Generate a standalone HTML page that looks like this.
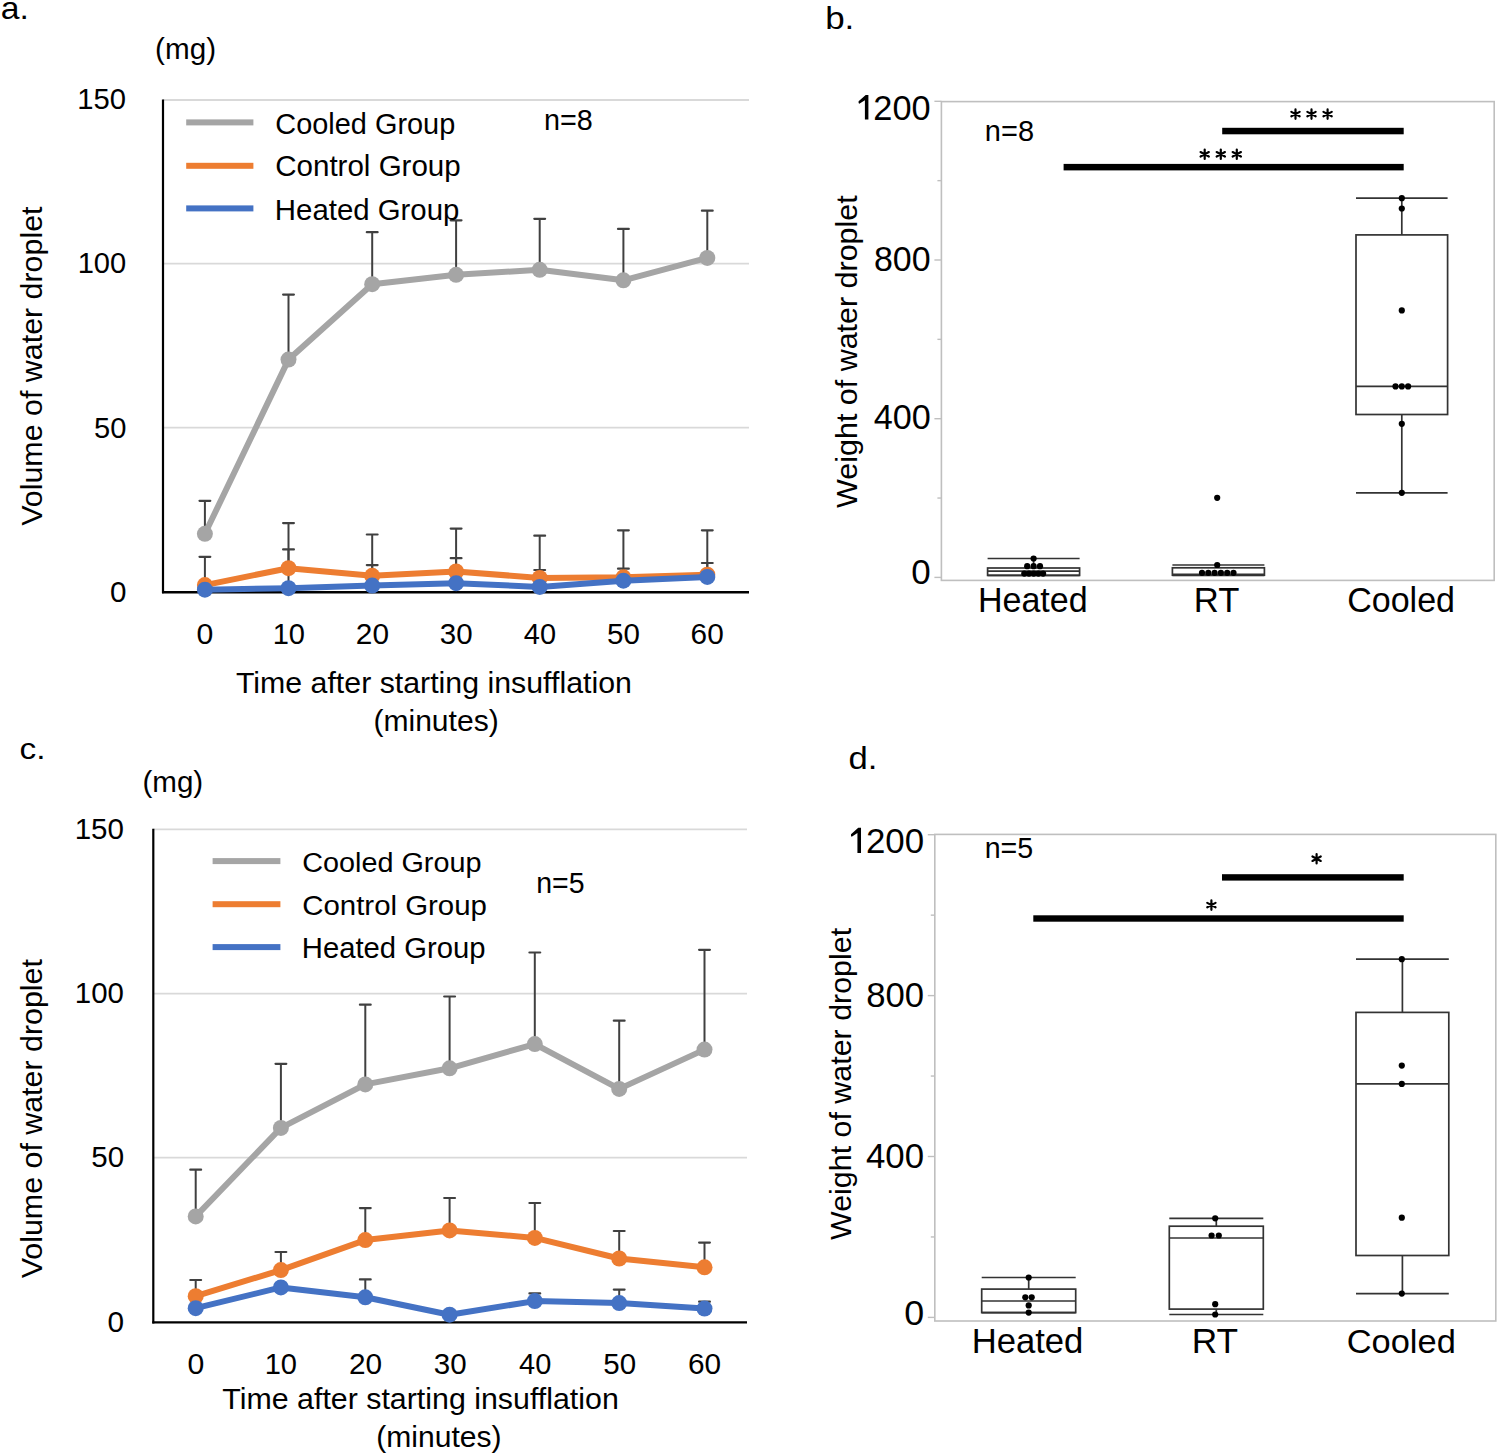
<!DOCTYPE html>
<html><head><meta charset="utf-8"><title>Figure</title>
<style>html,body{margin:0;padding:0;background:#fff;}svg{display:block;}text{font-family:"Liberation Sans",sans-serif;}</style></head>
<body><svg width="1499" height="1455" viewBox="0 0 1499 1455" font-family="Liberation Sans, sans-serif">
<rect width="1499" height="1455" fill="#fff"/>
<line x1="163" y1="100" x2="749" y2="100" stroke="#D9D9D9" stroke-width="1.8" />
<line x1="163" y1="263.6" x2="749" y2="263.6" stroke="#D9D9D9" stroke-width="1.8" />
<line x1="163" y1="427.7" x2="749" y2="427.7" stroke="#D9D9D9" stroke-width="1.8" />
<line x1="204.9" y1="533.8" x2="204.9" y2="500.8" stroke="#404040" stroke-width="2" />
<line x1="199.5" y1="500.8" x2="210.3" y2="500.8" stroke="#404040" stroke-width="2.2" stroke-linecap="round"/>
<line x1="288.5" y1="359.6" x2="288.5" y2="294.6" stroke="#404040" stroke-width="2" />
<line x1="283.1" y1="294.6" x2="293.9" y2="294.6" stroke="#404040" stroke-width="2.2" stroke-linecap="round"/>
<line x1="372.2" y1="284.2" x2="372.2" y2="232.2" stroke="#404040" stroke-width="2" />
<line x1="366.8" y1="232.2" x2="377.59999999999997" y2="232.2" stroke="#404040" stroke-width="2.2" stroke-linecap="round"/>
<line x1="456.1" y1="274.8" x2="456.1" y2="220.3" stroke="#404040" stroke-width="2" />
<line x1="450.70000000000005" y1="220.3" x2="461.5" y2="220.3" stroke="#404040" stroke-width="2.2" stroke-linecap="round"/>
<line x1="539.7" y1="269.8" x2="539.7" y2="218.8" stroke="#404040" stroke-width="2" />
<line x1="534.3000000000001" y1="218.8" x2="545.1" y2="218.8" stroke="#404040" stroke-width="2.2" stroke-linecap="round"/>
<line x1="623.4" y1="280.3" x2="623.4" y2="228.9" stroke="#404040" stroke-width="2" />
<line x1="618.0" y1="228.9" x2="628.8" y2="228.9" stroke="#404040" stroke-width="2.2" stroke-linecap="round"/>
<line x1="707.3" y1="257.9" x2="707.3" y2="210.7" stroke="#404040" stroke-width="2" />
<line x1="701.9" y1="210.7" x2="712.6999999999999" y2="210.7" stroke="#404040" stroke-width="2.2" stroke-linecap="round"/>
<line x1="204.9" y1="585.1" x2="204.9" y2="556.8" stroke="#404040" stroke-width="2" />
<line x1="199.5" y1="556.8" x2="210.3" y2="556.8" stroke="#404040" stroke-width="2.2" stroke-linecap="round"/>
<line x1="288.5" y1="568.2" x2="288.5" y2="523.1" stroke="#404040" stroke-width="2" />
<line x1="283.1" y1="523.1" x2="293.9" y2="523.1" stroke="#404040" stroke-width="2.2" stroke-linecap="round"/>
<line x1="372.2" y1="575.8" x2="372.2" y2="534.5" stroke="#404040" stroke-width="2" />
<line x1="366.8" y1="534.5" x2="377.59999999999997" y2="534.5" stroke="#404040" stroke-width="2.2" stroke-linecap="round"/>
<line x1="456.1" y1="571.5" x2="456.1" y2="528.6" stroke="#404040" stroke-width="2" />
<line x1="450.70000000000005" y1="528.6" x2="461.5" y2="528.6" stroke="#404040" stroke-width="2.2" stroke-linecap="round"/>
<line x1="539.7" y1="577.9" x2="539.7" y2="535.7" stroke="#404040" stroke-width="2" />
<line x1="534.3000000000001" y1="535.7" x2="545.1" y2="535.7" stroke="#404040" stroke-width="2.2" stroke-linecap="round"/>
<line x1="623.4" y1="577.3" x2="623.4" y2="530.3" stroke="#404040" stroke-width="2" />
<line x1="618.0" y1="530.3" x2="628.8" y2="530.3" stroke="#404040" stroke-width="2.2" stroke-linecap="round"/>
<line x1="707.3" y1="574.7" x2="707.3" y2="530.3" stroke="#404040" stroke-width="2" />
<line x1="701.9" y1="530.3" x2="712.6999999999999" y2="530.3" stroke="#404040" stroke-width="2.2" stroke-linecap="round"/>
<line x1="288.5" y1="588.2" x2="288.5" y2="549.4" stroke="#404040" stroke-width="2" />
<line x1="283.1" y1="549.4" x2="293.9" y2="549.4" stroke="#404040" stroke-width="2.2" stroke-linecap="round"/>
<line x1="372.2" y1="585.6" x2="372.2" y2="565.1" stroke="#404040" stroke-width="2" />
<line x1="366.8" y1="565.1" x2="377.59999999999997" y2="565.1" stroke="#404040" stroke-width="2.2" stroke-linecap="round"/>
<line x1="456.1" y1="583.2" x2="456.1" y2="558.2" stroke="#404040" stroke-width="2" />
<line x1="450.70000000000005" y1="558.2" x2="461.5" y2="558.2" stroke="#404040" stroke-width="2.2" stroke-linecap="round"/>
<line x1="539.7" y1="586.9" x2="539.7" y2="570.0" stroke="#404040" stroke-width="2" />
<line x1="534.3000000000001" y1="570.0" x2="545.1" y2="570.0" stroke="#404040" stroke-width="2.2" stroke-linecap="round"/>
<line x1="623.4" y1="580.7" x2="623.4" y2="568.7" stroke="#404040" stroke-width="2" />
<line x1="618.0" y1="568.7" x2="628.8" y2="568.7" stroke="#404040" stroke-width="2.2" stroke-linecap="round"/>
<line x1="707.3" y1="576.9" x2="707.3" y2="563.0" stroke="#404040" stroke-width="2" />
<line x1="701.9" y1="563.0" x2="712.6999999999999" y2="563.0" stroke="#404040" stroke-width="2.2" stroke-linecap="round"/>
<line x1="163" y1="99.5" x2="163" y2="593.3" stroke="#000" stroke-width="2.2" />
<line x1="162" y1="592.3" x2="749" y2="592.3" stroke="#000" stroke-width="2.4" />
<polyline points="204.9,533.8 288.5,359.6 372.2,284.2 456.1,274.8 539.7,269.8 623.4,280.3 707.3,257.9" fill="none" stroke="#A5A5A5" stroke-width="6" stroke-linejoin="round"/>
<circle cx="204.9" cy="533.8" r="8" fill="#A5A5A5"/>
<circle cx="288.5" cy="359.6" r="8" fill="#A5A5A5"/>
<circle cx="372.2" cy="284.2" r="8" fill="#A5A5A5"/>
<circle cx="456.1" cy="274.8" r="8" fill="#A5A5A5"/>
<circle cx="539.7" cy="269.8" r="8" fill="#A5A5A5"/>
<circle cx="623.4" cy="280.3" r="8" fill="#A5A5A5"/>
<circle cx="707.3" cy="257.9" r="8" fill="#A5A5A5"/>
<polyline points="204.9,585.1 288.5,568.2 372.2,575.8 456.1,571.5 539.7,577.9 623.4,577.3 707.3,574.7" fill="none" stroke="#ED7D31" stroke-width="6" stroke-linejoin="round"/>
<circle cx="204.9" cy="585.1" r="8" fill="#ED7D31"/>
<circle cx="288.5" cy="568.2" r="8" fill="#ED7D31"/>
<circle cx="372.2" cy="575.8" r="8" fill="#ED7D31"/>
<circle cx="456.1" cy="571.5" r="8" fill="#ED7D31"/>
<circle cx="539.7" cy="577.9" r="8" fill="#ED7D31"/>
<circle cx="623.4" cy="577.3" r="8" fill="#ED7D31"/>
<circle cx="707.3" cy="574.7" r="8" fill="#ED7D31"/>
<polyline points="204.9,589.7 288.5,588.2 372.2,585.6 456.1,583.2 539.7,586.9 623.4,580.7 707.3,576.9" fill="none" stroke="#4472C4" stroke-width="6" stroke-linejoin="round"/>
<circle cx="204.9" cy="589.7" r="8" fill="#4472C4"/>
<circle cx="288.5" cy="588.2" r="8" fill="#4472C4"/>
<circle cx="372.2" cy="585.6" r="8" fill="#4472C4"/>
<circle cx="456.1" cy="583.2" r="8" fill="#4472C4"/>
<circle cx="539.7" cy="586.9" r="8" fill="#4472C4"/>
<circle cx="623.4" cy="580.7" r="8" fill="#4472C4"/>
<circle cx="707.3" cy="576.9" r="8" fill="#4472C4"/>
<rect x="186.2" y="119.4" width="67.20000000000002" height="6" fill="#A5A5A5"/>
<rect x="186.2" y="162.8" width="67.20000000000002" height="6" fill="#ED7D31"/>
<rect x="186.2" y="205.4" width="67.20000000000002" height="6" fill="#4472C4"/>
<text transform="translate(0.65,19.20) scale(1.0585,1)" font-size="31.85" fill="#000" >a.</text>
<text transform="translate(155.12,59.46) scale(1.0148,1)" font-size="29.26" fill="#000" >(mg)</text>
<text transform="translate(77.26,109.11) scale(1.0122,1)" font-size="28.87" fill="#000" >150</text>
<text transform="translate(77.67,273.31) scale(0.9932,1)" font-size="29.30" fill="#000" >100</text>
<text transform="translate(94.03,437.51) scale(1.0039,1)" font-size="29.01" fill="#000" >50</text>
<text transform="translate(109.92,602.11) scale(1.0050,1)" font-size="29.44" fill="#000" >0</text>
<text transform="translate(41.90,525.80) rotate(-90) scale(1.0045,1)" font-size="30.27" fill="#000">Volume of water droplet</text>
<text transform="translate(275.25,133.60) scale(0.9554,1)" font-size="30.27" fill="#000" >Cooled Group</text>
<text transform="translate(275.22,176.20) scale(1.0174,1)" font-size="29.04" fill="#000" >Control Group</text>
<text transform="translate(274.85,220.00) scale(1.0214,1)" font-size="28.77" fill="#000" >Heated Group</text>
<text transform="translate(543.98,130.11) scale(0.9830,1)" font-size="29.30" fill="#000" >n=8</text>
<text transform="translate(196.44,643.51) scale(1.0311,1)" font-size="29.30" fill="#000" >0</text>
<text transform="translate(272.67,643.51) scale(0.9930,1)" font-size="29.30" fill="#000" >10</text>
<text transform="translate(355.81,643.51) scale(1.0173,1)" font-size="29.30" fill="#000" >20</text>
<text transform="translate(439.82,643.51) scale(1.0075,1)" font-size="29.30" fill="#000" >30</text>
<text transform="translate(523.82,643.51) scale(0.9883,1)" font-size="29.30" fill="#000" >40</text>
<text transform="translate(607.12,643.51) scale(1.0075,1)" font-size="29.30" fill="#000" >50</text>
<text transform="translate(690.61,643.51) scale(1.0173,1)" font-size="29.30" fill="#000" >60</text>
<text transform="translate(235.89,692.70) scale(1.0108,1)" font-size="30.00" fill="#000" >Time after starting insufflation</text>
<text transform="translate(373.40,731.00) scale(1.0117,1)" font-size="29.73" fill="#000" >(minutes)</text>
<line x1="153.3" y1="829.3" x2="747" y2="829.3" stroke="#D9D9D9" stroke-width="1.8" />
<line x1="153.3" y1="993.6" x2="747" y2="993.6" stroke="#D9D9D9" stroke-width="1.8" />
<line x1="153.3" y1="1157.7" x2="747" y2="1157.7" stroke="#D9D9D9" stroke-width="1.8" />
<line x1="195.7" y1="1216.4" x2="195.7" y2="1169.7" stroke="#404040" stroke-width="2" />
<line x1="190.29999999999998" y1="1169.7" x2="201.1" y2="1169.7" stroke="#404040" stroke-width="2.2" stroke-linecap="round"/>
<line x1="280.9" y1="1127.9" x2="280.9" y2="1063.8" stroke="#404040" stroke-width="2" />
<line x1="275.5" y1="1063.8" x2="286.29999999999995" y2="1063.8" stroke="#404040" stroke-width="2.2" stroke-linecap="round"/>
<line x1="365.3" y1="1084.4" x2="365.3" y2="1004.7" stroke="#404040" stroke-width="2" />
<line x1="359.90000000000003" y1="1004.7" x2="370.7" y2="1004.7" stroke="#404040" stroke-width="2.2" stroke-linecap="round"/>
<line x1="449.6" y1="1068.3" x2="449.6" y2="996.5" stroke="#404040" stroke-width="2" />
<line x1="444.20000000000005" y1="996.5" x2="455.0" y2="996.5" stroke="#404040" stroke-width="2.2" stroke-linecap="round"/>
<line x1="534.8" y1="1044.1" x2="534.8" y2="952.5" stroke="#404040" stroke-width="2" />
<line x1="529.4" y1="952.5" x2="540.1999999999999" y2="952.5" stroke="#404040" stroke-width="2.2" stroke-linecap="round"/>
<line x1="619.2" y1="1088.9" x2="619.2" y2="1020.7" stroke="#404040" stroke-width="2" />
<line x1="613.8000000000001" y1="1020.7" x2="624.6" y2="1020.7" stroke="#404040" stroke-width="2.2" stroke-linecap="round"/>
<line x1="704.5" y1="1049.6" x2="704.5" y2="949.8" stroke="#404040" stroke-width="2" />
<line x1="699.1" y1="949.8" x2="709.9" y2="949.8" stroke="#404040" stroke-width="2.2" stroke-linecap="round"/>
<line x1="195.7" y1="1296.2" x2="195.7" y2="1280.0" stroke="#404040" stroke-width="2" />
<line x1="190.29999999999998" y1="1280.0" x2="201.1" y2="1280.0" stroke="#404040" stroke-width="2.2" stroke-linecap="round"/>
<line x1="280.9" y1="1270.1" x2="280.9" y2="1252.0" stroke="#404040" stroke-width="2" />
<line x1="275.5" y1="1252.0" x2="286.29999999999995" y2="1252.0" stroke="#404040" stroke-width="2.2" stroke-linecap="round"/>
<line x1="365.3" y1="1240.1" x2="365.3" y2="1208.1" stroke="#404040" stroke-width="2" />
<line x1="359.90000000000003" y1="1208.1" x2="370.7" y2="1208.1" stroke="#404040" stroke-width="2.2" stroke-linecap="round"/>
<line x1="449.6" y1="1230.4" x2="449.6" y2="1198.0" stroke="#404040" stroke-width="2" />
<line x1="444.20000000000005" y1="1198.0" x2="455.0" y2="1198.0" stroke="#404040" stroke-width="2.2" stroke-linecap="round"/>
<line x1="534.8" y1="1237.9" x2="534.8" y2="1203.0" stroke="#404040" stroke-width="2" />
<line x1="529.4" y1="1203.0" x2="540.1999999999999" y2="1203.0" stroke="#404040" stroke-width="2.2" stroke-linecap="round"/>
<line x1="619.2" y1="1258.5" x2="619.2" y2="1231.0" stroke="#404040" stroke-width="2" />
<line x1="613.8000000000001" y1="1231.0" x2="624.6" y2="1231.0" stroke="#404040" stroke-width="2.2" stroke-linecap="round"/>
<line x1="704.5" y1="1267.3" x2="704.5" y2="1242.6" stroke="#404040" stroke-width="2" />
<line x1="699.1" y1="1242.6" x2="709.9" y2="1242.6" stroke="#404040" stroke-width="2.2" stroke-linecap="round"/>
<line x1="365.3" y1="1297.3" x2="365.3" y2="1279.4" stroke="#404040" stroke-width="2" />
<line x1="359.90000000000003" y1="1279.4" x2="370.7" y2="1279.4" stroke="#404040" stroke-width="2.2" stroke-linecap="round"/>
<line x1="534.8" y1="1301.1" x2="534.8" y2="1293.4" stroke="#404040" stroke-width="2" />
<line x1="529.4" y1="1293.4" x2="540.1999999999999" y2="1293.4" stroke="#404040" stroke-width="2.2" stroke-linecap="round"/>
<line x1="619.2" y1="1303.1" x2="619.2" y2="1289.6" stroke="#404040" stroke-width="2" />
<line x1="613.8000000000001" y1="1289.6" x2="624.6" y2="1289.6" stroke="#404040" stroke-width="2.2" stroke-linecap="round"/>
<line x1="704.5" y1="1308.6" x2="704.5" y2="1301.7" stroke="#404040" stroke-width="2" />
<line x1="699.1" y1="1301.7" x2="709.9" y2="1301.7" stroke="#404040" stroke-width="2.2" stroke-linecap="round"/>
<line x1="153.3" y1="828.8" x2="153.3" y2="1323.4" stroke="#000" stroke-width="2.2" />
<line x1="152.3" y1="1322.4" x2="747" y2="1322.4" stroke="#000" stroke-width="2.4" />
<polyline points="195.7,1216.4 280.9,1127.9 365.3,1084.4 449.6,1068.3 534.8,1044.1 619.2,1088.9 704.5,1049.6" fill="none" stroke="#A5A5A5" stroke-width="6" stroke-linejoin="round"/>
<circle cx="195.7" cy="1216.4" r="8" fill="#A5A5A5"/>
<circle cx="280.9" cy="1127.9" r="8" fill="#A5A5A5"/>
<circle cx="365.3" cy="1084.4" r="8" fill="#A5A5A5"/>
<circle cx="449.6" cy="1068.3" r="8" fill="#A5A5A5"/>
<circle cx="534.8" cy="1044.1" r="8" fill="#A5A5A5"/>
<circle cx="619.2" cy="1088.9" r="8" fill="#A5A5A5"/>
<circle cx="704.5" cy="1049.6" r="8" fill="#A5A5A5"/>
<polyline points="195.7,1296.2 280.9,1270.1 365.3,1240.1 449.6,1230.4 534.8,1237.9 619.2,1258.5 704.5,1267.3" fill="none" stroke="#ED7D31" stroke-width="6" stroke-linejoin="round"/>
<circle cx="195.7" cy="1296.2" r="8" fill="#ED7D31"/>
<circle cx="280.9" cy="1270.1" r="8" fill="#ED7D31"/>
<circle cx="365.3" cy="1240.1" r="8" fill="#ED7D31"/>
<circle cx="449.6" cy="1230.4" r="8" fill="#ED7D31"/>
<circle cx="534.8" cy="1237.9" r="8" fill="#ED7D31"/>
<circle cx="619.2" cy="1258.5" r="8" fill="#ED7D31"/>
<circle cx="704.5" cy="1267.3" r="8" fill="#ED7D31"/>
<polyline points="195.7,1308.2 280.9,1287.4 365.3,1297.3 449.6,1314.7 534.8,1301.1 619.2,1303.1 704.5,1308.6" fill="none" stroke="#4472C4" stroke-width="6" stroke-linejoin="round"/>
<circle cx="195.7" cy="1308.2" r="8" fill="#4472C4"/>
<circle cx="280.9" cy="1287.4" r="8" fill="#4472C4"/>
<circle cx="365.3" cy="1297.3" r="8" fill="#4472C4"/>
<circle cx="449.6" cy="1314.7" r="8" fill="#4472C4"/>
<circle cx="534.8" cy="1301.1" r="8" fill="#4472C4"/>
<circle cx="619.2" cy="1303.1" r="8" fill="#4472C4"/>
<circle cx="704.5" cy="1308.6" r="8" fill="#4472C4"/>
<rect x="212.6" y="858.1" width="67.79999999999998" height="6" fill="#A5A5A5"/>
<rect x="212.6" y="901.2" width="67.79999999999998" height="6" fill="#ED7D31"/>
<rect x="212.6" y="944.1" width="67.79999999999998" height="6" fill="#4472C4"/>
<text transform="translate(19.46,759.20) scale(1.1128,1)" font-size="30.00" fill="#000" >c.</text>
<text transform="translate(142.42,792.16) scale(1.0113,1)" font-size="29.26" fill="#000" >(mg)</text>
<text transform="translate(74.64,838.91) scale(1.0038,1)" font-size="29.44" fill="#000" >150</text>
<text transform="translate(74.85,1003.11) scale(1.0042,1)" font-size="29.30" fill="#000" >100</text>
<text transform="translate(91.22,1167.31) scale(1.0075,1)" font-size="29.30" fill="#000" >50</text>
<text transform="translate(107.41,1332.00) scale(1.0072,1)" font-size="29.58" fill="#000" >0</text>
<text transform="translate(41.90,1278.30) rotate(-90) scale(1.0133,1)" font-size="30.00" fill="#000">Volume of water droplet</text>
<text transform="translate(302.26,872.00) scale(1.0203,1)" font-size="28.22" fill="#000" >Cooled Group</text>
<text transform="translate(302.23,914.90) scale(1.0375,1)" font-size="28.36" fill="#000" >Control Group</text>
<text transform="translate(301.86,958.30) scale(1.0073,1)" font-size="29.04" fill="#000" >Heated Group</text>
<text transform="translate(536.21,892.80) scale(0.9448,1)" font-size="30.14" fill="#000" >n=5</text>
<text transform="translate(187.44,1373.51) scale(1.0311,1)" font-size="29.30" fill="#000" >0</text>
<text transform="translate(264.67,1373.51) scale(0.9930,1)" font-size="29.30" fill="#000" >10</text>
<text transform="translate(348.91,1373.51) scale(1.0173,1)" font-size="29.30" fill="#000" >20</text>
<text transform="translate(433.82,1373.51) scale(1.0075,1)" font-size="29.30" fill="#000" >30</text>
<text transform="translate(519.12,1373.51) scale(0.9883,1)" font-size="29.30" fill="#000" >40</text>
<text transform="translate(603.32,1373.51) scale(1.0075,1)" font-size="29.30" fill="#000" >50</text>
<text transform="translate(687.91,1373.51) scale(1.0173,1)" font-size="29.30" fill="#000" >60</text>
<text transform="translate(222.29,1409.00) scale(0.9989,1)" font-size="30.41" fill="#000" >Time after starting insufflation</text>
<text transform="translate(376.30,1447.10) scale(0.9934,1)" font-size="30.27" fill="#000" >(minutes)</text>
<rect x="941.4" y="101.6" width="552.8000000000001" height="478.79999999999995" fill="none" stroke="#BFBFBF" stroke-width="1.6"/>
<line x1="934.4" y1="577.4" x2="941.4" y2="577.4" stroke="#BFBFBF" stroke-width="1.4" />
<line x1="937.4" y1="498.04999999999995" x2="941.4" y2="498.04999999999995" stroke="#BFBFBF" stroke-width="1.4" />
<line x1="934.4" y1="418.7" x2="941.4" y2="418.7" stroke="#BFBFBF" stroke-width="1.4" />
<line x1="937.4" y1="339.35" x2="941.4" y2="339.35" stroke="#BFBFBF" stroke-width="1.4" />
<line x1="934.4" y1="260.0" x2="941.4" y2="260.0" stroke="#BFBFBF" stroke-width="1.4" />
<line x1="937.4" y1="180.64999999999998" x2="941.4" y2="180.64999999999998" stroke="#BFBFBF" stroke-width="1.4" />
<line x1="934.4" y1="101.30000000000001" x2="941.4" y2="101.30000000000001" stroke="#BFBFBF" stroke-width="1.4" />
<text transform="translate(825.16,29.00) scale(1.1085,1)" font-size="31.51" fill="#000" >b.</text>
<polygon points="868.40,95.00 868.40,119.60 864.90,119.60 864.90,100.20 859.30,103.80 858.60,103.00 858.60,101.20 865.70,95.00" fill="#000"/>
<text transform="translate(873.28,119.65) scale(0.9760,1)" font-size="35.21" fill="#000" >200</text>
<text transform="translate(873.94,271.45) scale(0.9684,1)" font-size="35.07" fill="#000" >800</text>
<text transform="translate(873.72,429.35) scale(0.9681,1)" font-size="35.35" fill="#000" >400</text>
<text transform="translate(911.20,584.45) scale(1.0102,1)" font-size="34.65" fill="#000" >0</text>
<text transform="translate(856.90,507.90) rotate(-90) scale(1.0159,1)" font-size="30.00" fill="#000">Weight of water droplet</text>
<text transform="translate(984.87,140.91) scale(0.9895,1)" font-size="29.30" fill="#000" >n=8</text>
<rect x="1222.2" y="127.8" width="181.5" height="6.5" fill="#000"/>
<rect x="1063.6" y="163.9" width="340.1" height="6.5" fill="#000"/>
<path d="M1295.50,118.80L1295.50,109.40M1291.35,116.31L1299.65,111.89M1291.35,111.89L1299.65,116.31" stroke="#000" stroke-width="2.2" stroke-linecap="round" fill="none"/>
<path d="M1311.50,118.80L1311.50,109.40M1307.35,116.31L1315.65,111.89M1307.35,111.89L1315.65,116.31" stroke="#000" stroke-width="2.2" stroke-linecap="round" fill="none"/>
<path d="M1327.60,118.80L1327.60,109.40M1323.45,116.31L1331.75,111.89M1323.45,111.89L1331.75,116.31" stroke="#000" stroke-width="2.2" stroke-linecap="round" fill="none"/>
<path d="M1204.70,159.00L1204.70,149.60M1200.55,156.51L1208.85,152.09M1200.55,152.09L1208.85,156.51" stroke="#000" stroke-width="2.2" stroke-linecap="round" fill="none"/>
<path d="M1220.80,159.00L1220.80,149.60M1216.65,156.51L1224.95,152.09M1216.65,152.09L1224.95,156.51" stroke="#000" stroke-width="2.2" stroke-linecap="round" fill="none"/>
<path d="M1236.80,159.00L1236.80,149.60M1232.65,156.51L1240.95,152.09M1232.65,152.09L1240.95,156.51" stroke="#000" stroke-width="2.2" stroke-linecap="round" fill="none"/>
<line x1="1033.6" y1="558.5" x2="1033.6" y2="568.0" stroke="#333333" stroke-width="1.7" />
<line x1="1033.6" y1="575.4" x2="1033.6" y2="575.4" stroke="#333333" stroke-width="1.7" />
<line x1="987.5999999999999" y1="558.5" x2="1079.6" y2="558.5" stroke="#333333" stroke-width="1.7" />
<line x1="987.5999999999999" y1="575.4" x2="1079.6" y2="575.4" stroke="#333333" stroke-width="1.7" />
<rect x="987.5999999999999" y="568.0" width="92" height="7.399999999999977" fill="none" stroke="#333333" stroke-width="1.7"/>
<line x1="987.5999999999999" y1="571.2" x2="1079.6" y2="571.2" stroke="#333333" stroke-width="1.7" />
<circle cx="1033.6" cy="558.5" r="3.1" fill="#000"/>
<circle cx="1027.2" cy="566.2" r="3.1" fill="#000"/>
<circle cx="1033.6" cy="566.2" r="3.1" fill="#000"/>
<circle cx="1040" cy="566.2" r="3.1" fill="#000"/>
<circle cx="1024.3" cy="573.6" r="3.1" fill="#000"/>
<circle cx="1029.0" cy="573.6" r="3.1" fill="#000"/>
<circle cx="1033.7" cy="573.6" r="3.1" fill="#000"/>
<circle cx="1038.3999999999999" cy="573.6" r="3.1" fill="#000"/>
<circle cx="1043.1" cy="573.6" r="3.1" fill="#000"/>
<line x1="1218.4" y1="565.0" x2="1218.4" y2="567.8" stroke="#333333" stroke-width="1.7" />
<line x1="1218.4" y1="575.2" x2="1218.4" y2="575.4" stroke="#333333" stroke-width="1.7" />
<line x1="1172.4" y1="565.0" x2="1264.4" y2="565.0" stroke="#333333" stroke-width="1.7" />
<line x1="1172.4" y1="575.4" x2="1264.4" y2="575.4" stroke="#333333" stroke-width="1.7" />
<rect x="1172.4" y="567.8" width="92" height="7.400000000000091" fill="none" stroke="#333333" stroke-width="1.7"/>
<line x1="1172.4" y1="574.4" x2="1264.4" y2="574.4" stroke="#333333" stroke-width="1.7" />
<circle cx="1217.2" cy="565.0" r="3.1" fill="#000"/>
<circle cx="1217.2" cy="497.8" r="3.1" fill="#000"/>
<circle cx="1202.0" cy="572.8" r="3.1" fill="#000"/>
<circle cx="1208.3" cy="572.8" r="3.1" fill="#000"/>
<circle cx="1214.6" cy="572.8" r="3.1" fill="#000"/>
<circle cx="1220.9" cy="572.8" r="3.1" fill="#000"/>
<circle cx="1227.2" cy="572.8" r="3.1" fill="#000"/>
<circle cx="1233.5" cy="572.8" r="3.1" fill="#000"/>
<line x1="1401.8" y1="198.2" x2="1401.8" y2="234.9" stroke="#333333" stroke-width="1.7" />
<line x1="1401.8" y1="414.5" x2="1401.8" y2="492.8" stroke="#333333" stroke-width="1.7" />
<line x1="1356.0" y1="198.2" x2="1447.6" y2="198.2" stroke="#333333" stroke-width="1.7" />
<line x1="1356.0" y1="492.8" x2="1447.6" y2="492.8" stroke="#333333" stroke-width="1.7" />
<rect x="1356.0" y="234.9" width="91.6" height="179.6" fill="none" stroke="#333333" stroke-width="1.7"/>
<line x1="1356.0" y1="386.4" x2="1447.6" y2="386.4" stroke="#333333" stroke-width="1.7" />
<circle cx="1401.8" cy="198.2" r="3.1" fill="#000"/>
<circle cx="1401.8" cy="208.5" r="3.1" fill="#000"/>
<circle cx="1401.8" cy="310.4" r="3.1" fill="#000"/>
<circle cx="1395.5" cy="386.4" r="3.1" fill="#000"/>
<circle cx="1401.8" cy="386.4" r="3.1" fill="#000"/>
<circle cx="1408.1" cy="386.4" r="3.1" fill="#000"/>
<circle cx="1401.8" cy="423.8" r="3.1" fill="#000"/>
<circle cx="1401.8" cy="492.8" r="3.1" fill="#000"/>
<text transform="translate(977.88,612.00) scale(0.9788,1)" font-size="34.79" fill="#000" >Heated</text>
<text transform="translate(1193.82,612.00) scale(0.9816,1)" font-size="35.36" fill="#000" >RT</text>
<text transform="translate(1347.20,611.80) scale(0.9859,1)" font-size="34.52" fill="#000" >Cooled</text>
<rect x="934.8" y="834.4" width="561.0" height="486.6" fill="none" stroke="#BFBFBF" stroke-width="1.6"/>
<line x1="927.8" y1="1317.4" x2="934.8" y2="1317.4" stroke="#BFBFBF" stroke-width="1.4" />
<line x1="930.8" y1="1236.95" x2="934.8" y2="1236.95" stroke="#BFBFBF" stroke-width="1.4" />
<line x1="927.8" y1="1156.5" x2="934.8" y2="1156.5" stroke="#BFBFBF" stroke-width="1.4" />
<line x1="930.8" y1="1076.0500000000002" x2="934.8" y2="1076.0500000000002" stroke="#BFBFBF" stroke-width="1.4" />
<line x1="927.8" y1="995.6000000000001" x2="934.8" y2="995.6000000000001" stroke="#BFBFBF" stroke-width="1.4" />
<line x1="930.8" y1="915.1500000000001" x2="934.8" y2="915.1500000000001" stroke="#BFBFBF" stroke-width="1.4" />
<line x1="927.8" y1="834.7" x2="934.8" y2="834.7" stroke="#BFBFBF" stroke-width="1.4" />
<text transform="translate(848.41,768.70) scale(1.1066,1)" font-size="31.37" fill="#000" >d.</text>
<polygon points="861.01,827.80 861.01,852.90 857.43,852.90 857.43,833.11 851.72,836.78 851.01,835.96 851.01,834.13 858.25,827.80" fill="#000"/>
<text transform="translate(865.96,852.94) scale(0.9710,1)" font-size="35.92" fill="#000" >200</text>
<text transform="translate(866.21,1007.34) scale(0.9666,1)" font-size="35.92" fill="#000" >800</text>
<text transform="translate(866.00,1167.54) scale(0.9740,1)" font-size="35.77" fill="#000" >400</text>
<text transform="translate(904.17,1325.25) scale(1.0177,1)" font-size="35.21" fill="#000" >0</text>
<text transform="translate(850.70,1240.00) rotate(-90) scale(1.0277,1)" font-size="29.59" fill="#000">Weight of water droplet</text>
<text transform="translate(984.70,858.01) scale(0.9768,1)" font-size="29.29" fill="#000" >n=5</text>
<rect x="1222.0" y="874.2" width="181.7" height="6.4" fill="#000"/>
<rect x="1033.3" y="915.3" width="370.4" height="6.4" fill="#000"/>
<path d="M1316.60,863.40L1316.60,854.00M1312.45,860.91L1320.75,856.49M1312.45,856.49L1320.75,860.91" stroke="#000" stroke-width="2.2" stroke-linecap="round" fill="none"/>
<path d="M1211.40,909.80L1211.40,900.40M1207.25,907.31L1215.55,902.89M1207.25,902.89L1215.55,907.31" stroke="#000" stroke-width="2.2" stroke-linecap="round" fill="none"/>
<line x1="1028.7" y1="1277.5" x2="1028.7" y2="1289.1" stroke="#333333" stroke-width="1.7" />
<line x1="1028.7" y1="1312.6" x2="1028.7" y2="1312.6" stroke="#333333" stroke-width="1.7" />
<line x1="981.7" y1="1277.5" x2="1075.7" y2="1277.5" stroke="#333333" stroke-width="1.7" />
<line x1="981.7" y1="1312.6" x2="1075.7" y2="1312.6" stroke="#333333" stroke-width="1.7" />
<rect x="981.7" y="1289.1" width="94" height="23.5" fill="none" stroke="#333333" stroke-width="1.7"/>
<line x1="981.7" y1="1301.0" x2="1075.7" y2="1301.0" stroke="#333333" stroke-width="1.7" />
<circle cx="1028.7" cy="1277.5" r="3.1" fill="#000"/>
<circle cx="1025.3" cy="1297.3" r="3.1" fill="#000"/>
<circle cx="1031.7" cy="1297.3" r="3.1" fill="#000"/>
<circle cx="1028.7" cy="1305.4" r="3.1" fill="#000"/>
<circle cx="1028.7" cy="1312.6" r="3.1" fill="#000"/>
<line x1="1216.3" y1="1218.3" x2="1216.3" y2="1226.2" stroke="#333333" stroke-width="1.7" />
<line x1="1216.3" y1="1309.1" x2="1216.3" y2="1314.5" stroke="#333333" stroke-width="1.7" />
<line x1="1169.3" y1="1218.3" x2="1263.3" y2="1218.3" stroke="#333333" stroke-width="1.7" />
<line x1="1169.3" y1="1314.5" x2="1263.3" y2="1314.5" stroke="#333333" stroke-width="1.7" />
<rect x="1169.3" y="1226.2" width="94" height="82.89999999999986" fill="none" stroke="#333333" stroke-width="1.7"/>
<line x1="1169.3" y1="1238.0" x2="1263.3" y2="1238.0" stroke="#333333" stroke-width="1.7" />
<circle cx="1215.2" cy="1218.3" r="3.1" fill="#000"/>
<circle cx="1211.6" cy="1235.5" r="3.1" fill="#000"/>
<circle cx="1218.8" cy="1235.5" r="3.1" fill="#000"/>
<circle cx="1215.2" cy="1304.2" r="3.1" fill="#000"/>
<circle cx="1215.2" cy="1314.5" r="3.1" fill="#000"/>
<line x1="1402.4" y1="959.2" x2="1402.4" y2="1012.4" stroke="#333333" stroke-width="1.7" />
<line x1="1402.4" y1="1255.5" x2="1402.4" y2="1293.6" stroke="#333333" stroke-width="1.7" />
<line x1="1356.0" y1="959.2" x2="1448.8000000000002" y2="959.2" stroke="#333333" stroke-width="1.7" />
<line x1="1356.0" y1="1293.6" x2="1448.8000000000002" y2="1293.6" stroke="#333333" stroke-width="1.7" />
<rect x="1356.0" y="1012.4" width="92.8" height="243.10000000000002" fill="none" stroke="#333333" stroke-width="1.7"/>
<line x1="1356.0" y1="1083.9" x2="1448.8000000000002" y2="1083.9" stroke="#333333" stroke-width="1.7" />
<circle cx="1401.8" cy="959.2" r="3.1" fill="#000"/>
<circle cx="1401.8" cy="1065.6" r="3.1" fill="#000"/>
<circle cx="1401.8" cy="1083.9" r="3.1" fill="#000"/>
<circle cx="1401.8" cy="1217.7" r="3.1" fill="#000"/>
<circle cx="1401.8" cy="1293.6" r="3.1" fill="#000"/>
<text transform="translate(971.63,1352.80) scale(0.9956,1)" font-size="34.79" fill="#000" >Heated</text>
<text transform="translate(1191.78,1352.80) scale(1.0062,1)" font-size="35.07" fill="#000" >RT</text>
<text transform="translate(1346.68,1352.70) scale(1.0102,1)" font-size="34.11" fill="#000" >Cooled</text>
</svg></body></html>
